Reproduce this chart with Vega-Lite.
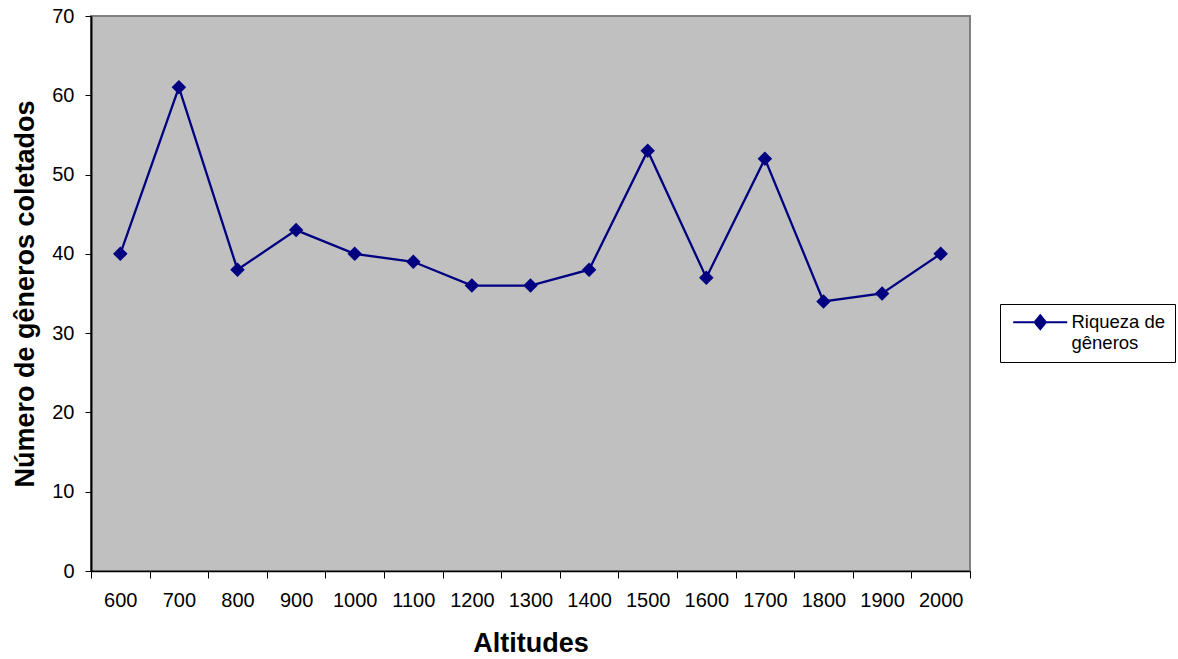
{
  "$schema": "https://vega.github.io/schema/vega-lite/v6.json",
  "width": 879,
  "height": 555,
  "autosize": {"type": "none"},
  "padding": {"left": 91, "top": 16, "right": 208, "bottom": 88},
  "background": "white",
  "config": {
    "font": "Liberation Sans",
    "view": {"fill": "#C0C0C0", "stroke": "#808080", "strokeWidth": 2}
  },
  "data": {
    "values": [
      {"altitude": 600, "generos": 40},
      {"altitude": 700, "generos": 61},
      {"altitude": 800, "generos": 38},
      {"altitude": 900, "generos": 43},
      {"altitude": 1000, "generos": 40},
      {"altitude": 1100, "generos": 39},
      {"altitude": 1200, "generos": 36},
      {"altitude": 1300, "generos": 36},
      {"altitude": 1400, "generos": 38},
      {"altitude": 1500, "generos": 53},
      {"altitude": 1600, "generos": 37},
      {"altitude": 1700, "generos": 52},
      {"altitude": 1800, "generos": 34},
      {"altitude": 1900, "generos": 35},
      {"altitude": 2000, "generos": 40}
    ]
  },
  "mark": {
    "type": "line",
    "strokeWidth": 2.3,
    "point": {"filled": true, "shape": "diamond", "size": 210}
  },
  "encoding": {
    "x": {
      "field": "altitude",
      "type": "ordinal",
      "scale": {"type": "band", "paddingInner": 0, "paddingOuter": 0},
      "axis": {
        "title": "Altitudes",
        "titleFontSize": 27,
        "titleFontWeight": "bold",
        "titleColor": "black",
        "titlePadding": 20,
        "labelFontSize": 20,
        "labelColor": "black",
        "labelAngle": 0,
        "labelPadding": 12,
        "tickBand": "extent",
        "tickSize": 7,
        "tickColor": "black",
        "domainColor": "black",
        "domainWidth": 1.5,
        "grid": false
      }
    },
    "y": {
      "field": "generos",
      "type": "quantitative",
      "scale": {"domain": [0, 70]},
      "axis": {
        "title": "Número de gêneros coletados",
        "titleFontSize": 27,
        "titleFontWeight": "bold",
        "titleColor": "black",
        "titlePadding": 12,
        "values": [0, 10, 20, 30, 40, 50, 60, 70],
        "labelFontSize": 20,
        "labelColor": "black",
        "labelPadding": 11,
        "tickSize": 6,
        "tickColor": "black",
        "domainColor": "black",
        "domainWidth": 2,
        "grid": false
      }
    },
    "color": {
      "datum": "Riqueza de gêneros",
      "scale": {"range": ["#000080"]},
      "legend": {
        "orient": "none",
        "legendX": 909,
        "legendY": 288,
        "title": null,
        "strokeColor": "black",
        "fillColor": "white",
        "padding": 9,
        "labelFontSize": 18.5,
        "labelColor": "black",
        "labelExpr": "['Riqueza de', 'gêneros']",
        "labelOffset": 22,
        "symbolType": "M-3.86,0L3.86,0M0,-1L0.81,0L0,1L-0.81,0Z",
        "symbolSize": 196,
        "symbolOffset": 22,
        "symbolStrokeWidth": 2,
        "symbolFillColor": "#000080",
        "symbolStrokeColor": "#000080"
      }
    }
  }
}
